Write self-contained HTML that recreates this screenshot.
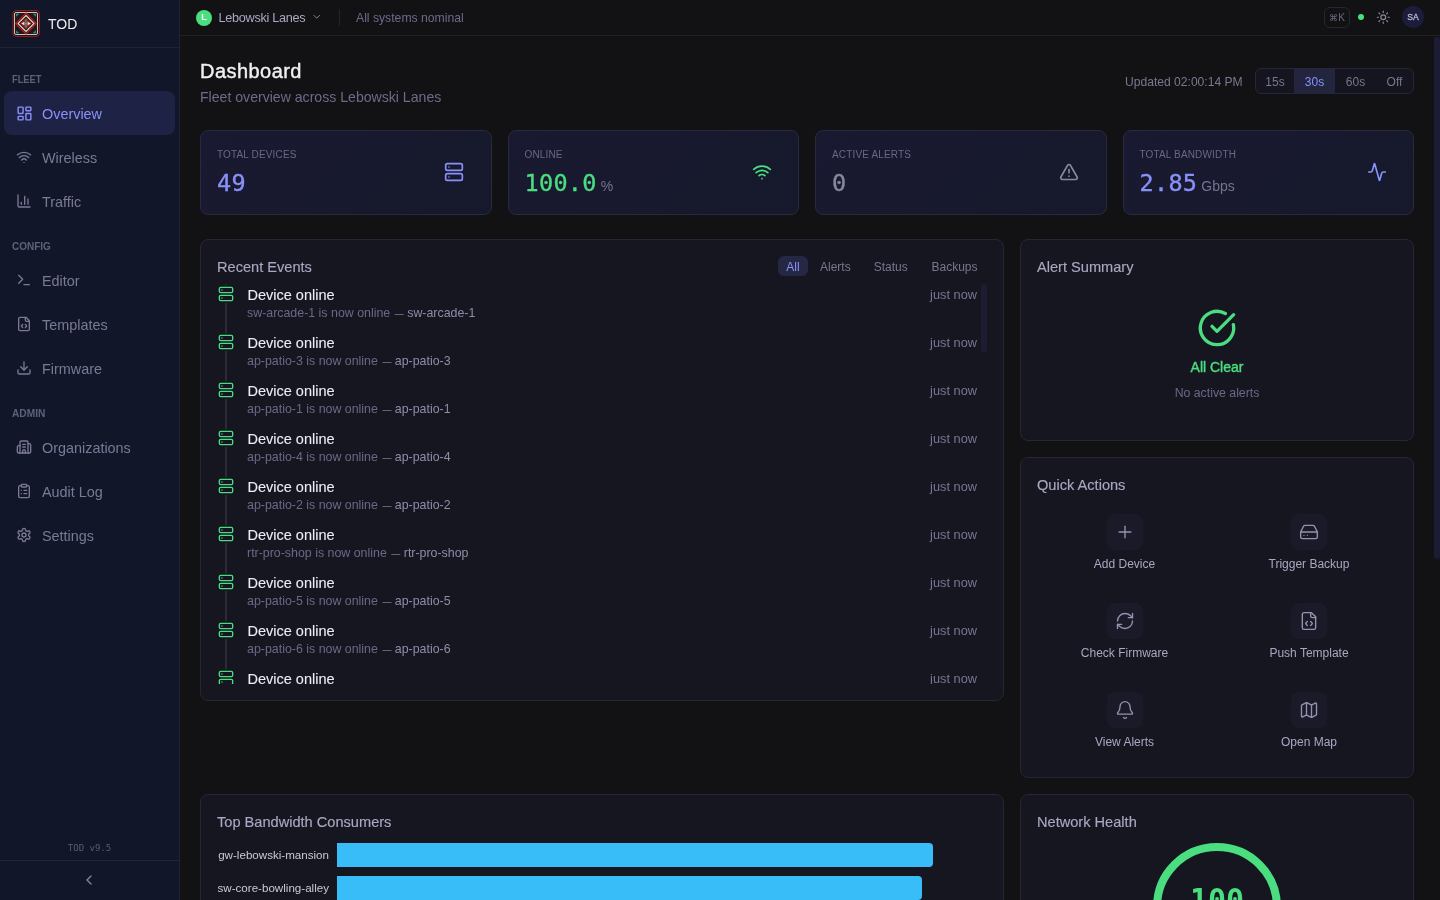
<!DOCTYPE html>
<html><head><meta charset="utf-8"><title>TOD Dashboard</title>
<style>
*{box-sizing:border-box;margin:0;padding:0}
html,body{width:1440px;height:900px;overflow:hidden;background:#121214;font-family:"Liberation Sans",sans-serif}
.t{position:absolute;white-space:nowrap}
</style></head><body>
<div style="position:absolute;left:0px;top:0px;width:179px;height:900px;background:#111729"></div>
<div style="position:absolute;left:179px;top:0px;width:1px;height:900px;background:#1c2538"></div>
<div style="position:absolute;left:0px;top:47px;width:179px;height:1px;background:#1d2336"></div>
<svg style="position:absolute;left:12px;top:9px" width="28" height="29" viewBox="0 -0.5 28 29">
<rect x="0.9" y="1" width="26.6" height="26" rx="3.5" fill="#231520" stroke="#8e1d1d" stroke-width="1"/>
<rect x="2.5" y="3" width="23" height="22" rx="1.5" fill="#26161f" stroke="#cdc3b1" stroke-width="1"/>
<path d="M4.2 4.3 L7.2 4.3 L4.2 7.3Z M23.8 4.3 L20.8 4.3 L23.8 7.3Z M4.2 23.7 L7.2 23.7 L4.2 20.7Z M23.8 23.7 L20.8 23.7 L23.8 20.7Z" fill="#1e9f96"/>
<path d="M14 3.6 L24.4 14 L14 24.4 L3.6 14Z" fill="none" stroke="#bd1e1e" stroke-width="1.2"/>
<path d="M14 6 L22 14 L14 22 L6 14Z" fill="none" stroke="#e6ddca" stroke-width="1.1"/>
<path d="M14 8.2 L19.8 14 L14 19.8 L8.2 14Z" fill="#a51c1c"/>
<path d="M9.2 14 L12.4 12.2 L12.4 15.8Z M18.8 14 L15.6 12.2 L15.6 15.8Z" fill="#f1e8d6"/>
<path d="M14 9.3 L15.1 12 L12.9 12Z M14 18.7 L15.1 16 L12.9 16Z" fill="#22aea1"/>
<circle cx="14" cy="14" r="1.3" fill="#22aea1"/>
</svg>
<div class="t" style="left:48px;top:16.95px;font-size:14px;line-height:14px;color:#ececf1;font-weight:500;">TOD</div>
<div class="t" style="left:12px;top:74.53px;font-size:10px;line-height:10px;color:#5f6079;font-weight:700;transform:scaleX(0.93);transform-origin:0 0;">FLEET</div>
<div style="position:absolute;left:4px;top:91px;width:171px;height:44px;background:#1e2245;border-radius:8px"></div>
<svg style="position:absolute;left:15.5px;top:104.5px;" width="17" height="17" viewBox="0 0 24 24" fill="none" stroke="#8891f9" stroke-width="2" stroke-linecap="round" stroke-linejoin="round"><rect width="7" height="9" x="3" y="3" rx="1"/><rect width="7" height="5" x="14" y="3" rx="1"/><rect width="7" height="9" x="14" y="12" rx="1"/><rect width="7" height="5" x="3" y="16" rx="1"/></svg>
<div class="t" style="left:42px;top:106.81px;font-size:14.4px;line-height:14.4px;color:#8891f9;">Overview</div>
<svg style="position:absolute;left:16.0px;top:149.0px;" width="16" height="16" viewBox="0 0 24 24" fill="none" stroke="#7b7995" stroke-width="2" stroke-linecap="round" stroke-linejoin="round"><path d="M12 20h.01"/><path d="M2 8.82a15 15 0 0 1 20 0"/><path d="M5 12.859a10 10 0 0 1 14 0"/><path d="M8.5 16.429a5 5 0 0 1 7 0"/></svg>
<div class="t" style="left:42px;top:150.81px;font-size:14.4px;line-height:14.4px;color:#7b7995;">Wireless</div>
<svg style="position:absolute;left:16.0px;top:193.0px;" width="16" height="16" viewBox="0 0 24 24" fill="none" stroke="#7b7995" stroke-width="2" stroke-linecap="round" stroke-linejoin="round"><path d="M3 3v16a2 2 0 0 0 2 2h16"/><path d="M18 17V9"/><path d="M13 17V5"/><path d="M8 17v-3"/></svg>
<div class="t" style="left:42px;top:194.81px;font-size:14.4px;line-height:14.4px;color:#7b7995;">Traffic</div>
<div class="t" style="left:12px;top:241.53px;font-size:10px;line-height:10px;color:#5f6079;font-weight:700;transform:scaleX(1.0);transform-origin:0 0;">CONFIG</div>
<svg style="position:absolute;left:16.0px;top:272.0px;" width="16" height="16" viewBox="0 0 24 24" fill="none" stroke="#7b7995" stroke-width="2" stroke-linecap="round" stroke-linejoin="round"><polyline points="4 17 10 11 4 5"/><line x1="12" x2="20" y1="19" y2="19"/></svg>
<div class="t" style="left:42px;top:273.81px;font-size:14.4px;line-height:14.4px;color:#7b7995;">Editor</div>
<svg style="position:absolute;left:16.0px;top:316.0px;" width="16" height="16" viewBox="0 0 24 24" fill="none" stroke="#7b7995" stroke-width="2" stroke-linecap="round" stroke-linejoin="round"><path d="M10 12.5 8 15l2 2.5"/><path d="m14 12.5 2 2.5-2 2.5"/><path d="M14 2v4a2 2 0 0 0 2 2h4"/><path d="M15 2H6a2 2 0 0 0-2 2v16a2 2 0 0 0 2 2h12a2 2 0 0 0 2-2V7z"/></svg>
<div class="t" style="left:42px;top:317.81px;font-size:14.4px;line-height:14.4px;color:#7b7995;">Templates</div>
<svg style="position:absolute;left:16.0px;top:360.0px;" width="16" height="16" viewBox="0 0 24 24" fill="none" stroke="#7b7995" stroke-width="2" stroke-linecap="round" stroke-linejoin="round"><path d="M21 15v4a2 2 0 0 1-2 2H5a2 2 0 0 1-2-2v-4"/><polyline points="7 10 12 15 17 10"/><line x1="12" x2="12" y1="15" y2="3"/></svg>
<div class="t" style="left:42px;top:361.81px;font-size:14.4px;line-height:14.4px;color:#7b7995;">Firmware</div>
<div class="t" style="left:12px;top:408.54px;font-size:10px;line-height:10px;color:#5f6079;font-weight:700;transform:scaleX(1.02);transform-origin:0 0;">ADMIN</div>
<svg style="position:absolute;left:16.0px;top:439.0px;" width="16" height="16" viewBox="0 0 24 24" fill="none" stroke="#7b7995" stroke-width="2" stroke-linecap="round" stroke-linejoin="round"><path d="M6 21V5a2 2 0 0 1 2-2h8a2 2 0 0 1 2 2v16"/><path d="M6 10H4a2 2 0 0 0-2 2v7a2 2 0 0 0 2 2h16a2 2 0 0 0 2-2v-10a2 2 0 0 0-2-2h-2"/><path d="M10 8h4"/><path d="M10 12h4"/><path d="M14 21v-3a2 2 0 0 0-4 0v3"/></svg>
<div class="t" style="left:42px;top:440.81px;font-size:14.4px;line-height:14.4px;color:#7b7995;">Organizations</div>
<svg style="position:absolute;left:16.0px;top:483.0px;" width="16" height="16" viewBox="0 0 24 24" fill="none" stroke="#7b7995" stroke-width="2" stroke-linecap="round" stroke-linejoin="round"><rect width="8" height="4" x="8" y="2" rx="1" ry="1"/><path d="M16 4h2a2 2 0 0 1 2 2v14a2 2 0 0 1-2 2H6a2 2 0 0 1-2-2V6a2 2 0 0 1 2-2h2"/><path d="M12 11h4"/><path d="M12 16h4"/><path d="M8 11h.01"/><path d="M8 16h.01"/></svg>
<div class="t" style="left:42px;top:484.81px;font-size:14.4px;line-height:14.4px;color:#7b7995;">Audit Log</div>
<svg style="position:absolute;left:16.0px;top:527.0px;" width="16" height="16" viewBox="0 0 24 24" fill="none" stroke="#7b7995" stroke-width="2" stroke-linecap="round" stroke-linejoin="round"><path d="M12.22 2h-.44a2 2 0 0 0-2 2v.18a2 2 0 0 1-1 1.73l-.43.25a2 2 0 0 1-2 0l-.15-.08a2 2 0 0 0-2.73.73l-.22.38a2 2 0 0 0 .73 2.73l.15.1a2 2 0 0 1 1 1.72v.51a2 2 0 0 1-1 1.74l-.15.09a2 2 0 0 0-.73 2.73l.22.38a2 2 0 0 0 2.73.73l.15-.08a2 2 0 0 1 2 0l.43.25a2 2 0 0 1 1 1.73V20a2 2 0 0 0 2 2h.44a2 2 0 0 0 2-2v-.18a2 2 0 0 1 1-1.73l.43-.25a2 2 0 0 1 2 0l.15.08a2 2 0 0 0 2.73-.73l.22-.39a2 2 0 0 0-.73-2.73l-.15-.08a2 2 0 0 1-1-1.74v-.5a2 2 0 0 1 1-1.74l.15-.09a2 2 0 0 0 .73-2.73l-.22-.38a2 2 0 0 0-2.73-.73l-.15.08a2 2 0 0 1-2 0l-.43-.25a2 2 0 0 1-1-1.73V4a2 2 0 0 0-2-2z"/><circle cx="12" cy="12" r="3"/></svg>
<div class="t" style="left:42px;top:528.81px;font-size:14.4px;line-height:14.4px;color:#7b7995;">Settings</div>
<div class="t" style="left:0px;top:844.38px;font-size:9px;line-height:9px;color:#5a5c73;font-family:'DejaVu Sans Mono','Liberation Mono',monospace;width:179px;text-align:center;">TOD v9.5</div>
<div style="position:absolute;left:0px;top:860px;width:179px;height:1px;background:#1f2638"></div>
<svg style="position:absolute;left:81.1px;top:872px;" width="16" height="16" viewBox="0 0 24 24" fill="none" stroke="#8684a0" stroke-width="2" stroke-linecap="round" stroke-linejoin="round"><path d="m15 18-6-6 6-6"/></svg>
<div style="position:absolute;left:180px;top:0px;width:1260px;height:35px;background:#121214"></div>
<div style="position:absolute;left:180px;top:35px;width:1260px;height:1px;background:#202023"></div>
<div style="position:absolute;left:196px;top:9.5px;width:16px;height:16px;border-radius:50%;background:#4ade80"></div>
<div class="t" style="left:196px;top:13.38px;font-size:9px;line-height:9px;color:#ffffff;font-weight:700;width:16px;text-align:center;">L</div>
<div class="t" style="left:218.5px;top:12.25px;font-size:12.7px;line-height:12.7px;color:#aaa7c1;letter-spacing:-0.3px;">Lebowski Lanes</div>
<svg style="position:absolute;left:311px;top:11.4px;" width="11.5" height="11.5" viewBox="0 0 24 24" fill="none" stroke="#8a88a3" stroke-width="2" stroke-linecap="round" stroke-linejoin="round"><path d="m6 9 6 6 6-6"/></svg>
<div style="position:absolute;left:339px;top:9px;width:1px;height:17px;background:#242428"></div>
<div class="t" style="left:356px;top:11.67px;font-size:12.2px;line-height:12.2px;color:#6d6a8a;">All systems nominal</div>
<div style="position:absolute;left:1324px;top:7px;width:26px;height:21px;border:1px solid #27272d;border-radius:6px"></div>
<div class="t" style="left:1324px;top:12.73px;font-size:10px;line-height:10px;color:#6b6884;width:26px;text-align:center;letter-spacing:-0.3px;"><span style="font-size:8.5px">&#8984;</span>K</div>
<div style="position:absolute;left:1358px;top:14.4px;width:6px;height:6px;border-radius:50%;background:#4ade80"></div>
<svg style="position:absolute;left:1375.8px;top:10.2px;" width="14.5" height="14.5" viewBox="0 0 24 24" fill="none" stroke="#8a88a3" stroke-width="2" stroke-linecap="round" stroke-linejoin="round"><circle cx="12" cy="12" r="4"/><path d="M12 2v2"/><path d="M12 20v2"/><path d="m4.93 4.93 1.41 1.41"/><path d="m17.66 17.66 1.41 1.41"/><path d="M2 12h2"/><path d="M20 12h2"/><path d="m6.34 17.66-1.41 1.41"/><path d="m19.07 4.93-1.41 1.41"/></svg>
<div style="position:absolute;left:1402px;top:6.2px;width:22px;height:22px;border-radius:50%;background:#1c1d3a"></div>
<div class="t" style="left:1402px;top:13.32px;font-size:8.6px;line-height:8.6px;color:#b9b7cf;width:22px;text-align:center;-webkit-text-stroke:0.3px #b9b7cf;">SA</div>
<div style="position:absolute;left:1434px;top:37px;width:6px;height:522px;background:#1c1c35;border-radius:3px"></div>
<div class="t" style="left:200px;top:60.77px;font-size:20px;line-height:20px;color:#f0f0f4;letter-spacing:0.45px;-webkit-text-stroke:0.4px #f0f0f4;">Dashboard</div>
<div class="t" style="left:200px;top:90.06px;font-size:14.1px;line-height:14.1px;color:#6d6a8a;">Fleet overview across Lebowski Lanes</div>
<div class="t" style="left:1125px;top:75.76px;font-size:12.1px;line-height:12.1px;color:#7a7790;">Updated 02:00:14 PM</div>
<div style="position:absolute;left:1255px;top:68px;width:159px;height:26px;border:1px solid #26263a;border-radius:6px;background:#15151f;overflow:hidden"><div style="position:absolute;left:38px;top:0;width:41px;height:24px;background:#23253f"></div></div>
<div class="t" style="left:1256px;top:75.84px;font-size:12px;line-height:12px;color:#7a7590;width:38px;text-align:center;">15s</div>
<div class="t" style="left:1294px;top:75.84px;font-size:12px;line-height:12px;color:#8891f9;width:41px;text-align:center;">30s</div>
<div class="t" style="left:1335px;top:75.84px;font-size:12px;line-height:12px;color:#7a7590;width:41px;text-align:center;">60s</div>
<div class="t" style="left:1376px;top:75.84px;font-size:12px;line-height:12px;color:#7a7590;width:37px;text-align:center;">Off</div>
<div style="position:absolute;left:200px;top:130px;width:291.5px;height:85px;box-sizing:border-box;border:1px solid #29293f;border-radius:8px;background:linear-gradient(135deg,#191a31 0%,#16182b 100%)"></div>
<div class="t" style="left:217px;top:149.53px;font-size:10px;line-height:10px;color:#6a6788;letter-spacing:0.15px;">TOTAL DEVICES</div>
<div class="t" style="left:217px;top:172.11px;font-size:23.5px;line-height:23.5px;color:#8891f9;font-family:'DejaVu Sans Mono','Liberation Mono',monospace;letter-spacing:0.3px;-webkit-text-stroke:0.35px #8891f9;">49</div>
<svg style="position:absolute;left:444px;top:161.8px;" width="20" height="20" viewBox="0 0 24 24" fill="none" stroke="#8891f9" stroke-width="2" stroke-linecap="round" stroke-linejoin="round"><rect width="20" height="8" x="2" y="2" rx="2" ry="2"/><rect width="20" height="8" x="2" y="14" rx="2" ry="2"/><line x1="6" x2="6.01" y1="6" y2="6"/><line x1="6" x2="6.01" y1="18" y2="18"/></svg>
<div style="position:absolute;left:507.5px;top:130px;width:291.5px;height:85px;box-sizing:border-box;border:1px solid #29293f;border-radius:8px;background:linear-gradient(135deg,#191a31 0%,#16182b 100%)"></div>
<div class="t" style="left:524.5px;top:149.53px;font-size:10px;line-height:10px;color:#6a6788;letter-spacing:0.15px;">ONLINE</div>
<div class="t" style="left:524.5px;top:172.11px;font-size:23.5px;line-height:23.5px;color:#4ade80;font-family:'DejaVu Sans Mono','Liberation Mono',monospace;letter-spacing:0.3px;-webkit-text-stroke:0.35px #4ade80;">100.0</div>
<div class="t" style="left:600.735px;top:179.15px;font-size:14px;line-height:14px;color:#77738f;">%</div>
<svg style="position:absolute;left:751.5px;top:161.8px;" width="20" height="20" viewBox="0 0 24 24" fill="none" stroke="#4ade80" stroke-width="2" stroke-linecap="round" stroke-linejoin="round"><path d="M12 20h.01"/><path d="M2 8.82a15 15 0 0 1 20 0"/><path d="M5 12.859a10 10 0 0 1 14 0"/><path d="M8.5 16.429a5 5 0 0 1 7 0"/></svg>
<div style="position:absolute;left:815px;top:130px;width:291.5px;height:85px;box-sizing:border-box;border:1px solid #29293f;border-radius:8px;background:linear-gradient(135deg,#191a31 0%,#16182b 100%)"></div>
<div class="t" style="left:832px;top:149.53px;font-size:10px;line-height:10px;color:#6a6788;letter-spacing:0.15px;">ACTIVE ALERTS</div>
<div class="t" style="left:832px;top:172.11px;font-size:23.5px;line-height:23.5px;color:#8a87a0;font-family:'DejaVu Sans Mono','Liberation Mono',monospace;letter-spacing:0.3px;-webkit-text-stroke:0.35px #8a87a0;">0</div>
<svg style="position:absolute;left:1059px;top:161.8px;" width="20" height="20" viewBox="0 0 24 24" fill="none" stroke="#8a87a0" stroke-width="2" stroke-linecap="round" stroke-linejoin="round"><path d="m21.73 18-8-14a2 2 0 0 0-3.48 0l-8 14A2 2 0 0 0 4 21h16a2 2 0 0 0 1.73-3"/><path d="M12 9v4"/><path d="M12 17h.01"/></svg>
<div style="position:absolute;left:1122.5px;top:130px;width:291.5px;height:85px;box-sizing:border-box;border:1px solid #29293f;border-radius:8px;background:linear-gradient(135deg,#191a31 0%,#16182b 100%)"></div>
<div class="t" style="left:1139.5px;top:149.53px;font-size:10px;line-height:10px;color:#6a6788;letter-spacing:0.15px;">TOTAL BANDWIDTH</div>
<div class="t" style="left:1139.5px;top:172.11px;font-size:23.5px;line-height:23.5px;color:#8891f9;font-family:'DejaVu Sans Mono','Liberation Mono',monospace;letter-spacing:0.3px;-webkit-text-stroke:0.35px #8891f9;">2.85</div>
<div class="t" style="left:1201.288px;top:179.15px;font-size:14px;line-height:14px;color:#77738f;">Gbps</div>
<svg style="position:absolute;left:1366.5px;top:161.8px;" width="20" height="20" viewBox="0 0 24 24" fill="none" stroke="#8891f9" stroke-width="2" stroke-linecap="round" stroke-linejoin="round"><path d="M22 12h-2.48a2 2 0 0 0-1.93 1.46l-2.35 8.36a.25.25 0 0 1-.48 0L9.24 2.18a.25.25 0 0 0-.48 0l-2.35 8.36A2 2 0 0 1 4.49 12H2"/></svg>
<div style="position:absolute;left:200px;top:239px;width:804px;height:462px;box-sizing:border-box;border:1px solid #262634;border-radius:8px;background:#161621"></div>
<div class="t" style="left:217px;top:259.64px;font-size:14.6px;line-height:14.6px;color:#aaa7c1;-webkit-text-stroke:0.15px #aaa7c1;">Recent Events</div>
<div style="position:absolute;left:778px;top:256px;width:30px;height:20px;border-radius:6px;background:#252845"></div>
<div class="t" style="left:778px;top:260.84px;font-size:12px;line-height:12px;color:#8891f9;width:30px;text-align:center;">All</div>
<div class="t" style="left:820px;top:260.84px;font-size:12px;line-height:12px;color:#7a7590;">Alerts</div>
<div class="t" style="left:873.7px;top:260.84px;font-size:12px;line-height:12px;color:#7a7590;">Status</div>
<div class="t" style="left:931.5px;top:260.84px;font-size:12px;line-height:12px;color:#7a7590;">Backups</div>
<div style="position:absolute;left:981px;top:284px;width:6px;height:68px;background:#1c1d33;border-radius:3px"></div>
<div style="position:absolute;left:201px;top:284px;width:778px;height:400px;overflow:hidden">
<div style="position:absolute;left:24.3px;top:0;width:1.5px;height:400px;background:#2a2a3b"></div>
<div style="position:absolute;left:16px;top:1px;width:18px;height:18px;background:#161621"></div>
<svg style="position:absolute;left:17px;top:2px" width="16" height="16" viewBox="0 0 24 24" fill="none" stroke="#4ade80" stroke-width="2" stroke-linecap="round" stroke-linejoin="round"><rect width="20" height="8" x="2" y="2" rx="2" ry="2"/><rect width="20" height="8" x="2" y="14" rx="2" ry="2"/><line x1="6" x2="6.01" y1="6" y2="6"/><line x1="6" x2="6.01" y1="18" y2="18"/></svg>
<div class="t" style="left:46.5px;top:3.73px;font-size:14.5px;line-height:14.5px;color:#ececf2;-webkit-text-stroke:0.1px #ececf2;">Device online</div>
<div class="t" style="left:46px;top:22.80px;font-size:12.4px;line-height:12.4px;color:#6b6886;">sw-arcade-1 is now online<span style="color:#8f8ca8;margin-left:4.5px"><span style="font-size:9px">&#8212;</span> sw-arcade-1</span></div>
<div class="t" style="left:0px;top:5.16px;font-size:12.8px;line-height:12.8px;color:#787592;width:776px;text-align:right;">just now</div>
<div style="position:absolute;left:16px;top:49px;width:18px;height:18px;background:#161621"></div>
<svg style="position:absolute;left:17px;top:50px" width="16" height="16" viewBox="0 0 24 24" fill="none" stroke="#4ade80" stroke-width="2" stroke-linecap="round" stroke-linejoin="round"><rect width="20" height="8" x="2" y="2" rx="2" ry="2"/><rect width="20" height="8" x="2" y="14" rx="2" ry="2"/><line x1="6" x2="6.01" y1="6" y2="6"/><line x1="6" x2="6.01" y1="18" y2="18"/></svg>
<div class="t" style="left:46.5px;top:51.73px;font-size:14.5px;line-height:14.5px;color:#ececf2;-webkit-text-stroke:0.1px #ececf2;">Device online</div>
<div class="t" style="left:46px;top:70.80px;font-size:12.4px;line-height:12.4px;color:#6b6886;">ap-patio-3 is now online<span style="color:#8f8ca8;margin-left:4.5px"><span style="font-size:9px">&#8212;</span> ap-patio-3</span></div>
<div class="t" style="left:0px;top:53.16px;font-size:12.8px;line-height:12.8px;color:#787592;width:776px;text-align:right;">just now</div>
<div style="position:absolute;left:16px;top:97px;width:18px;height:18px;background:#161621"></div>
<svg style="position:absolute;left:17px;top:98px" width="16" height="16" viewBox="0 0 24 24" fill="none" stroke="#4ade80" stroke-width="2" stroke-linecap="round" stroke-linejoin="round"><rect width="20" height="8" x="2" y="2" rx="2" ry="2"/><rect width="20" height="8" x="2" y="14" rx="2" ry="2"/><line x1="6" x2="6.01" y1="6" y2="6"/><line x1="6" x2="6.01" y1="18" y2="18"/></svg>
<div class="t" style="left:46.5px;top:99.73px;font-size:14.5px;line-height:14.5px;color:#ececf2;-webkit-text-stroke:0.1px #ececf2;">Device online</div>
<div class="t" style="left:46px;top:118.80px;font-size:12.4px;line-height:12.4px;color:#6b6886;">ap-patio-1 is now online<span style="color:#8f8ca8;margin-left:4.5px"><span style="font-size:9px">&#8212;</span> ap-patio-1</span></div>
<div class="t" style="left:0px;top:101.16px;font-size:12.8px;line-height:12.8px;color:#787592;width:776px;text-align:right;">just now</div>
<div style="position:absolute;left:16px;top:145px;width:18px;height:18px;background:#161621"></div>
<svg style="position:absolute;left:17px;top:146px" width="16" height="16" viewBox="0 0 24 24" fill="none" stroke="#4ade80" stroke-width="2" stroke-linecap="round" stroke-linejoin="round"><rect width="20" height="8" x="2" y="2" rx="2" ry="2"/><rect width="20" height="8" x="2" y="14" rx="2" ry="2"/><line x1="6" x2="6.01" y1="6" y2="6"/><line x1="6" x2="6.01" y1="18" y2="18"/></svg>
<div class="t" style="left:46.5px;top:147.73px;font-size:14.5px;line-height:14.5px;color:#ececf2;-webkit-text-stroke:0.1px #ececf2;">Device online</div>
<div class="t" style="left:46px;top:166.80px;font-size:12.4px;line-height:12.4px;color:#6b6886;">ap-patio-4 is now online<span style="color:#8f8ca8;margin-left:4.5px"><span style="font-size:9px">&#8212;</span> ap-patio-4</span></div>
<div class="t" style="left:0px;top:149.16px;font-size:12.8px;line-height:12.8px;color:#787592;width:776px;text-align:right;">just now</div>
<div style="position:absolute;left:16px;top:193px;width:18px;height:18px;background:#161621"></div>
<svg style="position:absolute;left:17px;top:194px" width="16" height="16" viewBox="0 0 24 24" fill="none" stroke="#4ade80" stroke-width="2" stroke-linecap="round" stroke-linejoin="round"><rect width="20" height="8" x="2" y="2" rx="2" ry="2"/><rect width="20" height="8" x="2" y="14" rx="2" ry="2"/><line x1="6" x2="6.01" y1="6" y2="6"/><line x1="6" x2="6.01" y1="18" y2="18"/></svg>
<div class="t" style="left:46.5px;top:195.73px;font-size:14.5px;line-height:14.5px;color:#ececf2;-webkit-text-stroke:0.1px #ececf2;">Device online</div>
<div class="t" style="left:46px;top:214.80px;font-size:12.4px;line-height:12.4px;color:#6b6886;">ap-patio-2 is now online<span style="color:#8f8ca8;margin-left:4.5px"><span style="font-size:9px">&#8212;</span> ap-patio-2</span></div>
<div class="t" style="left:0px;top:197.16px;font-size:12.8px;line-height:12.8px;color:#787592;width:776px;text-align:right;">just now</div>
<div style="position:absolute;left:16px;top:241px;width:18px;height:18px;background:#161621"></div>
<svg style="position:absolute;left:17px;top:242px" width="16" height="16" viewBox="0 0 24 24" fill="none" stroke="#4ade80" stroke-width="2" stroke-linecap="round" stroke-linejoin="round"><rect width="20" height="8" x="2" y="2" rx="2" ry="2"/><rect width="20" height="8" x="2" y="14" rx="2" ry="2"/><line x1="6" x2="6.01" y1="6" y2="6"/><line x1="6" x2="6.01" y1="18" y2="18"/></svg>
<div class="t" style="left:46.5px;top:243.73px;font-size:14.5px;line-height:14.5px;color:#ececf2;-webkit-text-stroke:0.1px #ececf2;">Device online</div>
<div class="t" style="left:46px;top:262.80px;font-size:12.4px;line-height:12.4px;color:#6b6886;">rtr-pro-shop is now online<span style="color:#8f8ca8;margin-left:4.5px"><span style="font-size:9px">&#8212;</span> rtr-pro-shop</span></div>
<div class="t" style="left:0px;top:245.16px;font-size:12.8px;line-height:12.8px;color:#787592;width:776px;text-align:right;">just now</div>
<div style="position:absolute;left:16px;top:289px;width:18px;height:18px;background:#161621"></div>
<svg style="position:absolute;left:17px;top:290px" width="16" height="16" viewBox="0 0 24 24" fill="none" stroke="#4ade80" stroke-width="2" stroke-linecap="round" stroke-linejoin="round"><rect width="20" height="8" x="2" y="2" rx="2" ry="2"/><rect width="20" height="8" x="2" y="14" rx="2" ry="2"/><line x1="6" x2="6.01" y1="6" y2="6"/><line x1="6" x2="6.01" y1="18" y2="18"/></svg>
<div class="t" style="left:46.5px;top:291.73px;font-size:14.5px;line-height:14.5px;color:#ececf2;-webkit-text-stroke:0.1px #ececf2;">Device online</div>
<div class="t" style="left:46px;top:310.80px;font-size:12.4px;line-height:12.4px;color:#6b6886;">ap-patio-5 is now online<span style="color:#8f8ca8;margin-left:4.5px"><span style="font-size:9px">&#8212;</span> ap-patio-5</span></div>
<div class="t" style="left:0px;top:293.16px;font-size:12.8px;line-height:12.8px;color:#787592;width:776px;text-align:right;">just now</div>
<div style="position:absolute;left:16px;top:337px;width:18px;height:18px;background:#161621"></div>
<svg style="position:absolute;left:17px;top:338px" width="16" height="16" viewBox="0 0 24 24" fill="none" stroke="#4ade80" stroke-width="2" stroke-linecap="round" stroke-linejoin="round"><rect width="20" height="8" x="2" y="2" rx="2" ry="2"/><rect width="20" height="8" x="2" y="14" rx="2" ry="2"/><line x1="6" x2="6.01" y1="6" y2="6"/><line x1="6" x2="6.01" y1="18" y2="18"/></svg>
<div class="t" style="left:46.5px;top:339.73px;font-size:14.5px;line-height:14.5px;color:#ececf2;-webkit-text-stroke:0.1px #ececf2;">Device online</div>
<div class="t" style="left:46px;top:358.80px;font-size:12.4px;line-height:12.4px;color:#6b6886;">ap-patio-6 is now online<span style="color:#8f8ca8;margin-left:4.5px"><span style="font-size:9px">&#8212;</span> ap-patio-6</span></div>
<div class="t" style="left:0px;top:341.16px;font-size:12.8px;line-height:12.8px;color:#787592;width:776px;text-align:right;">just now</div>
<div style="position:absolute;left:16px;top:385px;width:18px;height:18px;background:#161621"></div>
<svg style="position:absolute;left:17px;top:386px" width="16" height="16" viewBox="0 0 24 24" fill="none" stroke="#4ade80" stroke-width="2" stroke-linecap="round" stroke-linejoin="round"><rect width="20" height="8" x="2" y="2" rx="2" ry="2"/><rect width="20" height="8" x="2" y="14" rx="2" ry="2"/><line x1="6" x2="6.01" y1="6" y2="6"/><line x1="6" x2="6.01" y1="18" y2="18"/></svg>
<div class="t" style="left:46.5px;top:387.73px;font-size:14.5px;line-height:14.5px;color:#ececf2;-webkit-text-stroke:0.1px #ececf2;">Device online</div>
<div class="t" style="left:0px;top:389.16px;font-size:12.8px;line-height:12.8px;color:#787592;width:776px;text-align:right;">just now</div>
</div>
<div style="position:absolute;left:1020px;top:239px;width:394px;height:202px;box-sizing:border-box;border:1px solid #262634;border-radius:8px;background:#161621"></div>
<div class="t" style="left:1037px;top:259.64px;font-size:14.6px;line-height:14.6px;color:#aaa7c1;-webkit-text-stroke:0.15px #aaa7c1;">Alert Summary</div>
<svg style="position:absolute;left:1197px;top:307.5px;" width="40" height="40" viewBox="0 0 24 24" fill="none" stroke="#4ade80" stroke-width="2" stroke-linecap="round" stroke-linejoin="round"><path d="M21.801 10A10 10 0 1 1 17 3.335"/><path d="m9 11 3 3L22 4"/></svg>
<div class="t" style="left:1020px;top:359.65px;font-size:14px;line-height:14px;color:#4ade80;width:394px;text-align:center;-webkit-text-stroke:0.4px #4ade80;">All Clear</div>
<div class="t" style="left:1020px;top:386.89px;font-size:12.3px;line-height:12.3px;color:#6b6886;width:394px;text-align:center;">No active alerts</div>
<div style="position:absolute;left:1020px;top:457px;width:394px;height:321px;box-sizing:border-box;border:1px solid #262634;border-radius:8px;background:#161621"></div>
<div class="t" style="left:1037px;top:477.64px;font-size:14.6px;line-height:14.6px;color:#aaa7c1;-webkit-text-stroke:0.15px #aaa7c1;">Quick Actions</div>
<div style="position:absolute;left:1106.5px;top:514px;width:36px;height:36px;background:#1a1a29;border-radius:8px"></div>
<svg style="position:absolute;left:1114.5px;top:522px;" width="20" height="20" viewBox="0 0 24 24" fill="none" stroke="#9592ae" stroke-width="1.65" stroke-linecap="round" stroke-linejoin="round"><path d="M5 12h14"/><path d="M12 5v14"/></svg>
<div class="t" style="left:1034.5px;top:557.84px;font-size:12px;line-height:12px;color:#aaa7c1;width:180px;text-align:center;">Add Device</div>
<div style="position:absolute;left:1291px;top:514px;width:36px;height:36px;background:#1a1a29;border-radius:8px"></div>
<svg style="position:absolute;left:1299px;top:522px;" width="20" height="20" viewBox="0 0 24 24" fill="none" stroke="#9592ae" stroke-width="1.65" stroke-linecap="round" stroke-linejoin="round"><line x1="22" x2="2" y1="12" y2="12"/><path d="M5.45 5.11 2 12v6a2 2 0 0 0 2 2h16a2 2 0 0 0 2-2v-6l-3.45-6.89A2 2 0 0 0 16.76 4H7.24a2 2 0 0 0-1.790 1.11z"/><line x1="6" x2="6.01" y1="16" y2="16"/><line x1="10" x2="10.01" y1="16" y2="16"/></svg>
<div class="t" style="left:1219px;top:557.84px;font-size:12px;line-height:12px;color:#aaa7c1;width:180px;text-align:center;">Trigger Backup</div>
<div style="position:absolute;left:1106.5px;top:603px;width:36px;height:36px;background:#1a1a29;border-radius:8px"></div>
<svg style="position:absolute;left:1114.5px;top:611px;" width="20" height="20" viewBox="0 0 24 24" fill="none" stroke="#9592ae" stroke-width="1.65" stroke-linecap="round" stroke-linejoin="round"><path d="M3 12a9 9 0 0 1 9-9 9.75 9.75 0 0 1 6.74 2.74L21 8"/><path d="M21 3v5h-5"/><path d="M21 12a9 9 0 0 1-9 9 9.75 9.75 0 0 1-6.74-2.74L3 16"/><path d="M8 16H3v5"/></svg>
<div class="t" style="left:1034.5px;top:646.84px;font-size:12px;line-height:12px;color:#aaa7c1;width:180px;text-align:center;">Check Firmware</div>
<div style="position:absolute;left:1291px;top:603px;width:36px;height:36px;background:#1a1a29;border-radius:8px"></div>
<svg style="position:absolute;left:1299px;top:611px;" width="20" height="20" viewBox="0 0 24 24" fill="none" stroke="#9592ae" stroke-width="1.65" stroke-linecap="round" stroke-linejoin="round"><path d="M10 12.5 8 15l2 2.5"/><path d="m14 12.5 2 2.5-2 2.5"/><path d="M14 2v4a2 2 0 0 0 2 2h4"/><path d="M15 2H6a2 2 0 0 0-2 2v16a2 2 0 0 0 2 2h12a2 2 0 0 0 2-2V7z"/></svg>
<div class="t" style="left:1219px;top:646.84px;font-size:12px;line-height:12px;color:#aaa7c1;width:180px;text-align:center;">Push Template</div>
<div style="position:absolute;left:1106.5px;top:692px;width:36px;height:36px;background:#1a1a29;border-radius:8px"></div>
<svg style="position:absolute;left:1114.5px;top:700px;" width="20" height="20" viewBox="0 0 24 24" fill="none" stroke="#9592ae" stroke-width="1.65" stroke-linecap="round" stroke-linejoin="round"><path d="M10.268 21a2 2 0 0 0 3.464 0"/><path d="M3.262 15.326A1 1 0 0 0 4 17h16a1 1 0 0 0 .74-1.673C19.41 13.956 18 12.499 18 8A6 6 0 0 0 6 8c0 4.499-1.411 5.956-2.738 7.326"/></svg>
<div class="t" style="left:1034.5px;top:735.84px;font-size:12px;line-height:12px;color:#aaa7c1;width:180px;text-align:center;">View Alerts</div>
<div style="position:absolute;left:1291px;top:692px;width:36px;height:36px;background:#1a1a29;border-radius:8px"></div>
<svg style="position:absolute;left:1299px;top:700px;" width="20" height="20" viewBox="0 0 24 24" fill="none" stroke="#9592ae" stroke-width="1.65" stroke-linecap="round" stroke-linejoin="round"><path d="M14.106 5.553a2 2 0 0 0 1.788 0l3.659-1.83A1 1 0 0 1 21 4.619v12.764a1 1 0 0 1-.553.894l-4.553 2.277a2 2 0 0 1-1.788 0l-4.212-2.106a2 2 0 0 0-1.788 0l-3.659 1.83A1 1 0 0 1 3 19.381V6.618a1 1 0 0 1 .553-.894l4.553-2.277a2 2 0 0 1 1.788 0z"/><path d="M15 5.764v15"/><path d="M9 3.236v15"/></svg>
<div class="t" style="left:1219px;top:735.84px;font-size:12px;line-height:12px;color:#aaa7c1;width:180px;text-align:center;">Open Map</div>
<div style="position:absolute;left:200px;top:794px;width:804px;height:120px;box-sizing:border-box;border:1px solid #262634;border-radius:8px;background:#161621"></div>
<div class="t" style="left:217px;top:814.64px;font-size:14.6px;line-height:14.6px;color:#aaa7c1;-webkit-text-stroke:0.15px #aaa7c1;">Top Bandwidth Consumers</div>
<div class="t" style="left:200px;top:849.18px;font-size:11.6px;line-height:11.6px;color:#c9c8d6;width:129px;text-align:right;">gw-lebowski-mansion</div>
<div class="t" style="left:200px;top:881.88px;font-size:11.6px;line-height:11.6px;color:#c9c8d6;width:129px;text-align:right;">sw-core-bowling-alley</div>
<div style="position:absolute;left:337px;top:843px;width:596px;height:24px;background:#38bdf8;border-radius:0 4px 4px 0"></div>
<div style="position:absolute;left:337px;top:876px;width:585px;height:24px;background:#38bdf8;border-radius:0 4px 4px 0"></div>
<div style="position:absolute;left:1020px;top:794px;width:394px;height:120px;box-sizing:border-box;border:1px solid #262634;border-radius:8px;background:#161621"></div>
<div class="t" style="left:1037px;top:814.64px;font-size:14.6px;line-height:14.6px;color:#aaa7c1;-webkit-text-stroke:0.15px #aaa7c1;">Network Health</div>
<svg style="position:absolute;left:1153px;top:843px" width="128" height="128" viewBox="0 0 128 128"><circle cx="64" cy="64" r="60" fill="none" stroke="#4ade80" stroke-width="8"/></svg>
<div class="t" style="left:1020px;top:884.90px;font-size:30px;line-height:30px;color:#4ade80;font-weight:700;font-family:'DejaVu Sans Mono','Liberation Mono',monospace;width:394px;text-align:center;">100</div>
</body></html>
